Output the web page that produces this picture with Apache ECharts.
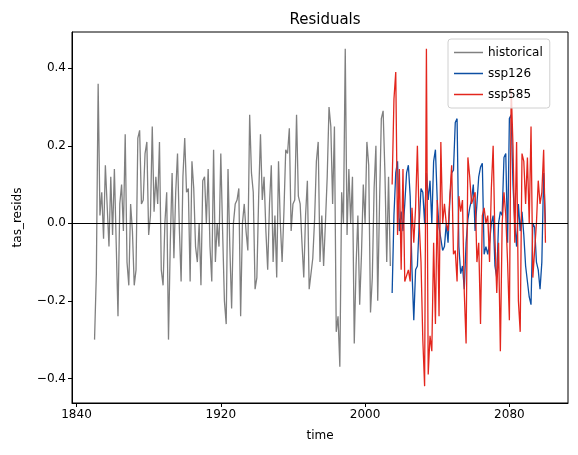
<!DOCTYPE html>
<html>
<head>
<meta charset="utf-8">
<script src="https://cdn.jsdelivr.net/npm/echarts@6/dist/echarts.min.js"></script>
<style>
  html, body { margin: 0; padding: 0; background: #fff; }
  #chart { width: 578px; height: 455px; }
</style>
</head>
<body>
<div id="chart"></div>
<script>
// residuals, one value per year
const histStart = 1850
const sspStart = 2015

const historical = [
  -0.30, -0.13, 0.36, 0.02, 0.08, -0.04, 0.15, 0.15, -0.06, 0.12,
  -0.03, 0.14, -0.05, -0.24, 0.05, 0.10, -0.02, 0.23, -0.10, -0.16,
  0.05, -0.02, -0.16, -0.12, 0.22, 0.24, 0.05, 0.06, 0.18, 0.21,
  -0.03, 0.02, 0.25, 0.03, 0.12, 0.05, 0.21, -0.12, -0.16, 0.00,
  0.08, -0.30, -0.05, 0.13, -0.09, 0.08, 0.18, -0.01, -0.15, 0.12,
  0.22, 0.08, 0.09, -0.15, 0.16, 0.09, -0.06, -0.10, 0.00, -0.16,
  0.11, 0.12, 0.00, 0.14, -0.06, -0.15, 0.19, -0.10, 0.00, -0.06,
  0.18, -0.02, -0.20, -0.26, 0.14, -0.06, -0.22, 0.00, 0.05, 0.06,
  0.09, -0.24, 0.00, 0.05, -0.02, -0.07, 0.28, 0.13, 0.08, -0.17,
  -0.14, 0.07, 0.23, 0.06, 0.12, -0.02, -0.12, 0.05, 0.15, -0.10,
  0.02, -0.14, 0.16, 0.00, -0.10, 0.03, 0.19, 0.18, 0.245, -0.02,
  0.05, 0.06, 0.28, 0.07, 0.05, -0.05, -0.14, 0.02, 0.11, -0.17,
  -0.175, -0.09, 0.01, 0.16, 0.21, -0.10, 0.02, -0.11, 0.00, 0.12,
  0.30, 0.25, 0.05, 0.25, -0.28, -0.24, -0.37, 0.08, 0.00, 0.45,
  -0.03, 0.14, 0.00, 0.12, -0.31, -0.11, 0.02, -0.21, -0.08, 0.10,
  0.00, 0.21, 0.15, -0.23, -0.14, 0.09, 0.20, -0.20, 0.05, 0.27,
  0.29, 0.13, -0.10, 0.12, -0.11
]

const ssp126 = [
  -0.18, 0.02, 0.13, 0.16, -0.02, 0.03, -0.02, 0.05, 0.13, 0.15,
  0.07, -0.12, -0.25, -0.12, -0.11, 0.00, 0.09, 0.08, 0.00, 0.13,
  0.06, 0.11, 0.00, 0.16, 0.19, 0.06, -0.01, -0.04, -0.07, -0.06,
  0.00, -0.05, 0.06, 0.13, 0.137, 0.26, 0.27, -0.06, -0.13, -0.11,
  -0.17, -0.05, 0.01, 0.04, 0.06, 0.10, -0.02, 0.05, 0.12, 0.145,
  0.155, -0.08, -0.06, -0.08, -0.05, 0.00, 0.02, -0.11, -0.14, 0.00,
  0.03, 0.02, 0.17, 0.18, -0.05, 0.27, 0.28, 0.10, 0.00, -0.06,
  0.05, -0.02, 0.03, -0.03, -0.11, -0.15, -0.19, -0.21, 0.00, -0.01,
  -0.10, -0.12, -0.17, -0.10, 0.13, 0.00
]

const ssp585 = [
  0.10, 0.32, 0.39, -0.03, 0.14, -0.12, 0.14, -0.15, -0.145, -0.12,
  -0.15, 0.04, -0.05, 0.04, 0.20, 0.00, -0.10, -0.30, -0.42, 0.45,
  -0.39, -0.29, -0.33, -0.05, -0.26, 0.06, -0.24, 0.21, 0.00, 0.05,
  0.00, -0.02, 0.07, 0.15, -0.08, -0.07, -0.15, 0.07, 0.03, 0.06,
  -0.18, -0.31, 0.17, 0.12, 0.05, 0.05, 0.08, -0.10, -0.05, -0.26,
  0.02, 0.04, 0.00, 0.02, -0.10, 0.09, 0.20, -0.04, -0.18, -0.05,
  -0.33, 0.00, 0.08, 0.02, -0.10, -0.25, 0.35, 0.20, -0.05, 0.21,
  -0.20, -0.28, 0.18, 0.16, 0.05, 0.17, 0.00, 0.25, -0.14, -0.14,
  0.00, 0.11, 0.05, 0.08, 0.19, -0.05
]

const xTicks = [1840, 1920, 2000, 2080]
const yTicks = [-0.4, -0.2, 0.0, 0.2, 0.4]

const seriesNames = ['historical', 'ssp126', 'ssp585']
const colors = ['#808080', '#0d4fa3', '#e3261d']

const font = 'DejaVu Sans'

// pair each value with its year
const toPairs = (values, start) => values.map((v, i) => [start + i, v])

const lineSeries = (name, data, color) => ({
  name: name,
  type: 'line',
  data: data,
  symbol: 'none',
  lineStyle: { color: color, width: 1.3 },
  itemStyle: { color: color }
})

const chart = echarts.init(document.getElementById('chart'), null, { renderer: 'canvas' })

const series = [
  lineSeries(seriesNames[0], toPairs(historical, histStart), colors[0]),
  lineSeries(seriesNames[1], toPairs(ssp126, sspStart), colors[1]),
  lineSeries(seriesNames[2], toPairs(ssp585, sspStart), colors[2])
]

// horizontal zero line (drawn on top)
series.push({
  name: 'zero',
  type: 'line',
  data: [],
  z: 5,
  markLine: {
    silent: true,
    symbol: 'none',
    label: { show: false },
    lineStyle: { color: '#000', type: 'solid', width: 1 },
    data: [{ yAxis: 0 }]
  }
})

chart.setOption({
  animation: false,
  textStyle: { fontFamily: font },
  title: {
    text: 'Residuals',
    left: 320,
    top: 8,
    textAlign: 'center',
    textStyle: { fontFamily: font, fontSize: 15, fontWeight: 'normal', color: '#000' }
  },
  legend: {
    data: seriesNames,
    orient: 'vertical',
    left: 448,
    top: 39,
    icon: 'rect',
    itemWidth: 29,
    itemHeight: 1.5,
    itemGap: 8,
    padding: [7, 7, 7, 6],
    backgroundColor: 'rgba(255,255,255,0.8)',
    borderColor: '#d0d0d0',
    borderWidth: 1,
    borderRadius: 3,
    textStyle: { fontFamily: font, fontSize: 12, color: '#000', lineHeight: 13 }
  },
  grid: {
    left: 72,
    top: 32,
    width: 496,
    height: 371,
    show: true,
    borderColor: '#000',
    borderWidth: 1,
    backgroundColor: 'transparent'
  },
  xAxis: {
    type: 'value',
    min: 1837.5,
    max: 2112.5,
    name: 'time',
    nameLocation: 'middle',
    nameGap: 27,
    nameTextStyle: { fontFamily: font, fontSize: 12, color: '#000' },
    axisLine: { show: true, onZero: false, lineStyle: { color: '#000', width: 1 } },
    axisTick: { show: true, length: 4, lineStyle: { color: '#000' }, customValues: xTicks },
    axisLabel: {
      fontFamily: font,
      fontSize: 12,
      color: '#000',
      margin: 6,
      customValues: xTicks,
      formatter: (v) => String(v)
    },
    splitLine: { show: false }
  },
  yAxis: {
    type: 'value',
    min: -0.4635,
    max: 0.4935,
    name: 'tas_resids',
    nameLocation: 'middle',
    nameGap: 48,
    nameRotate: 90,
    nameTextStyle: { fontFamily: font, fontSize: 12, color: '#000' },
    axisLine: { show: true, onZero: false, lineStyle: { color: '#000', width: 1 } },
    axisTick: { show: true, length: 4, lineStyle: { color: '#000' }, customValues: yTicks },
    axisLabel: {
      fontFamily: font,
      fontSize: 12,
      color: '#000',
      margin: 6,
      customValues: yTicks,
      formatter: (v) => v.toFixed(1).replace('-', '\u2212')
    },
    splitLine: { show: false }
  },
  series: series
})
</script>
</body>
</html>
